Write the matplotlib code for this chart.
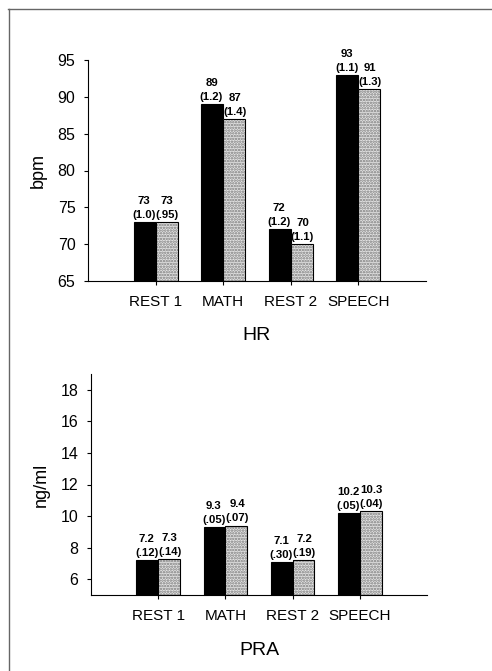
import matplotlib
matplotlib.use("Agg")
import matplotlib.pyplot as plt
from matplotlib.lines import Line2D
import numpy as np

plt.rcParams['font.family'] = ['Liberation Sans', 'DejaVu Sans']
plt.rcParams['hatch.linewidth'] = 1.2

categories = ["REST 1", "MATH", "REST 2", "SPEECH"]

hr_a = [73, 89, 72, 93]
hr_a_se = ["(1.0)", "(1.2)", "(1.2)", "(1.1)"]
hr_b = [73, 87, 70, 91]
hr_b_se = ["(.95)", "(1.4)", "(1.1)", "(1.3)"]

pra_a = [7.2, 9.3, 7.1, 10.2]
pra_a_se = ["(.12)", "(.05)", "(.30)", "(.05)"]
pra_b = [7.3, 9.4, 7.2, 10.3]
pra_b_se = ["(.14)", "(.07)", "(.19)", "(.04)"]

hr_yticks = [65, 70, 75, 80, 85, 90, 95]
pra_yticks = [6, 8, 10, 12, 14, 16, 18]

W, H = 492, 671
fig = plt.figure(figsize=(W / 100, H / 100), dpi=100)

# frame lines
fig.add_artist(Line2D([8 / W, 1.0], [1 - 8.5 / H, 1 - 8.5 / H], color="#666666", lw=1.0))
fig.add_artist(Line2D([8.5 / W, 8.5 / W], [0, 1 - 8.5 / H], color="#666666", lw=1.0))


def panel(rect, a, a_se, b, b_se, ylim, yticks, ylabel, title, fmt, xpad):
    ax = fig.add_axes(rect)
    x = np.arange(1, len(categories) + 1)
    w = 0.325
    ax.bar(x - w / 2, np.array(a) - ylim[0], w, bottom=ylim[0], color="black",
           edgecolor="black", linewidth=0.8, zorder=2)
    ax.bar(x + w / 2, np.array(b) - ylim[0], w, bottom=ylim[0], color="#e4e4e4",
           edgecolor="#7a7a7a", hatch="......", linewidth=0, zorder=2)
    ax.bar(x + w / 2, np.array(b) - ylim[0], w, bottom=ylim[0], fill=False,
           edgecolor="black", linewidth=0.8, zorder=3)
    for xi, v, se in zip(x - w / 2, a, a_se):
        ax.annotate(fmt(v) + "\n" + se, (xi, v), xytext=(-0.5, 1.5), textcoords="offset points",
                    ha="center", va="bottom", fontsize=8.2, fontweight="bold",
                    linespacing=1.5)
    for xi, v, se in zip(x + w / 2, b, b_se):
        ax.annotate(fmt(v) + "\n" + se, (xi, v), xytext=(0.5, 1.5), textcoords="offset points",
                    ha="center", va="bottom", fontsize=8.2, fontweight="bold",
                    linespacing=1.5)
    ax.set_xlim(0, 5)
    ax.set_ylim(*ylim)
    ax.set_yticks(yticks)
    ax.set_xticks(x)
    ax.set_xticklabels(categories, fontsize=11)
    ax.tick_params(axis="y", labelsize=11.5, length=3, width=0.8, pad=6)
    ax.tick_params(axis="x", length=3, width=0.8, pad=7)
    ax.spines["top"].set_visible(False)
    ax.spines["right"].set_visible(False)
    ax.spines["left"].set_linewidth(0.8)
    ax.spines["bottom"].set_linewidth(0.8)
    ax.set_ylabel(ylabel, fontsize=13, labelpad=8)
    ax.set_xlabel(title, fontsize=14, labelpad=xpad)
    return ax


panel([88 / W, 1 - 281 / H, 338 / W, 221 / H], hr_a, hr_a_se, hr_b, hr_b_se,
      (65, 95), hr_yticks, "bpm", "HR", lambda v: f"{v:g}", 13)
panel([91 / W, 1 - 595 / H, 336 / W, 221 / H], pra_a, pra_a_se, pra_b, pra_b_se,
      (5, 19), pra_yticks, "ng/ml", "PRA", lambda v: f"{v:g}", 14)

fig.savefig("out.png", dpi=100)
